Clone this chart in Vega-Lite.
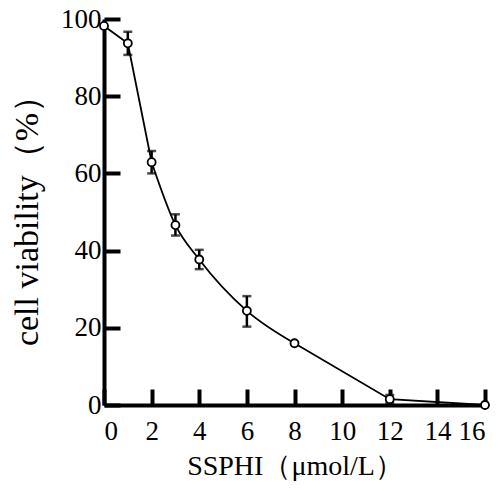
{
  "$schema": "https://vega.github.io/schema/vega-lite/v6.json",
  "width": 381,
  "height": 386,
  "autosize": "none",
  "padding": {"left": 104, "top": 19, "right": 15, "bottom": 86},
  "background": "white",
  "config": {
    "view": {"stroke": null},
    "font": "Liberation Serif",
    "axis": {
      "grid": false,
      "domainColor": "black",
      "domainWidth": 4,
      "tickColor": "black",
      "tickWidth": 4,
      "tickSize": -16,
      "labelFont": "Liberation Serif",
      "labelColor": "black",
      "titleFont": "Liberation Serif",
      "titleFontWeight": "normal",
      "titleColor": "black"
    }
  },
  "data": {
    "values": [
      {"x": 0, "y": 98.2, "lo": null, "hi": null},
      {"x": 1, "y": 93.7, "lo": 90.7, "hi": 96.7},
      {"x": 2, "y": 62.9, "lo": 60.0, "hi": 65.8},
      {"x": 3, "y": 46.6, "lo": 43.9, "hi": 49.4},
      {"x": 4, "y": 37.7, "lo": 35.2, "hi": 40.2},
      {"x": 6, "y": 24.4, "lo": 20.3, "hi": 28.2},
      {"x": 8, "y": 16.0, "lo": null, "hi": null},
      {"x": 12, "y": 1.5, "lo": 0.5, "hi": 2.6},
      {"x": 16, "y": 0.0, "lo": null, "hi": null}
    ]
  },
  "encoding": {
    "x": {
      "field": "x",
      "type": "quantitative",
      "scale": {"domain": [0, 16], "nice": false, "zero": false},
      "axis": {"values": [0, 2, 4, 6, 8, 10, 12, 14, 16], "title": "SSPHI（μmol/L）", "labelFontSize": 27, "titleFontSize": 28, "labelPadding": 29, "titlePadding": 8}
    }
  },
  "layer": [
    {
      "transform": [{"filter": "datum.lo != null"}],
      "mark": {"type": "errorbar", "ticks": {"size": 9, "thickness": 2.5, "color": "black"}, "thickness": 2.5, "color": "black"},
      "encoding": {
        "y": {"field": "lo", "type": "quantitative", "title": "cell viability（%）"},
        "y2": {"field": "hi"}
      }
    },
    {
      "transform": [{"filter": "datum.x <= 2"}],
      "mark": {"type": "line", "interpolate": "linear", "color": "black", "strokeWidth": 1.8},
      "encoding": {
        "y": {"field": "y", "type": "quantitative", "title": "cell viability（%）"}
      }
    },
    {
      "transform": [{"filter": "datum.x >= 2 && datum.x <= 8"}],
      "mark": {"type": "line", "interpolate": "monotone", "color": "black", "strokeWidth": 1.8},
      "encoding": {
        "y": {"field": "y", "type": "quantitative", "title": "cell viability（%）"}
      }
    },
    {
      "transform": [{"filter": "datum.x >= 8"}],
      "mark": {"type": "line", "interpolate": "linear", "color": "black", "strokeWidth": 1.8},
      "encoding": {
        "y": {"field": "y", "type": "quantitative", "title": "cell viability（%）"}
      }
    },
    {
      "mark": {"type": "point", "shape": "circle", "filled": true, "fill": "white", "stroke": "black", "strokeWidth": 1.8, "size": 64, "opacity": 1},
      "encoding": {
        "y": {
          "field": "y",
          "type": "quantitative",
          "title": "cell viability（%）",
          "scale": {"domain": [0, 100], "nice": false},
          "axis": {"values": [0, 20, 40, 60, 80, 100], "labelFontSize": 27, "titleFontSize": 34, "labelPadding": 19, "titlePadding": 16}
        }
      }
    }
  ]
}
